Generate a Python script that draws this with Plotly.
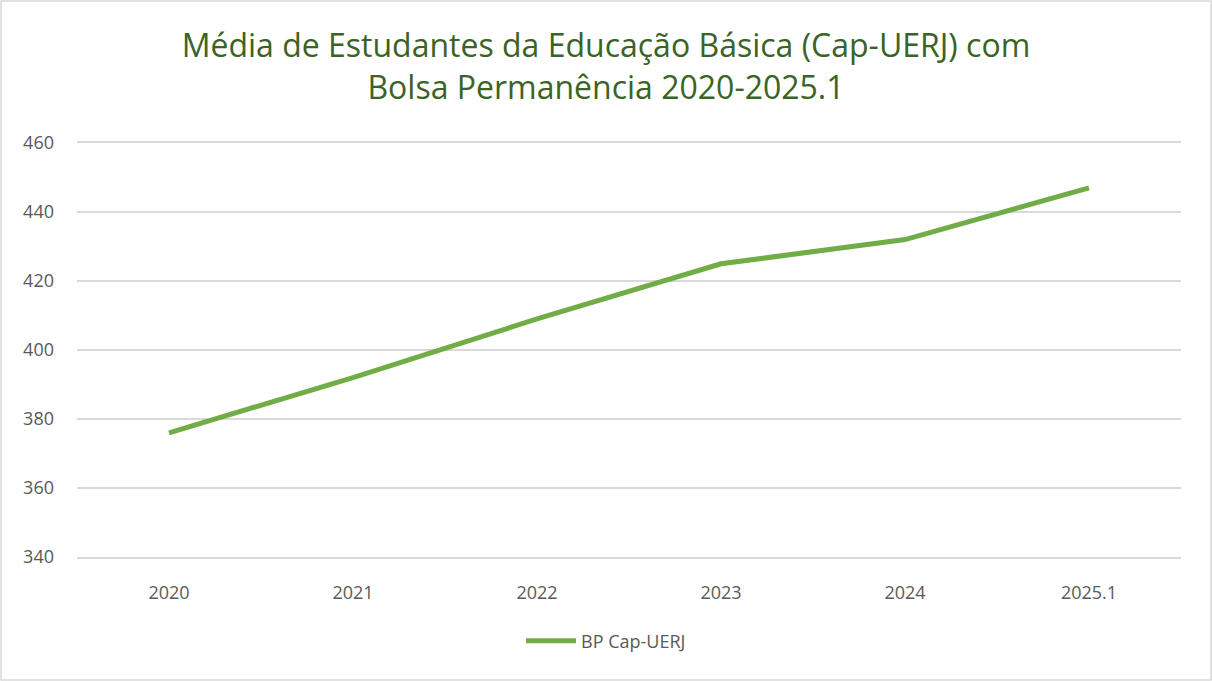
import plotly.graph_objects as go

# Chart data
years = ['2020', '2021', '2022', '2023', '2024', '2025.1']
bp_capuerj = [376, 392, 409, 425, 432, 447]
y_ticks = [340, 360, 380, 400, 420, 440, 460]

W, H = 1212, 681
L, R, T, B = 77, 31, 143, 124
pw, ph = W - L - R, H - T - B

fig = go.Figure()
fig.add_trace(go.Scatter(
    x=years,
    y=bp_capuerj,
    name='BP Cap-UERJ',
    mode='lines',
    line=dict(color='#70AD47', width=5)
))

fig.update_layout(
    title=dict(
        text='Média de Estudantes da Educação Básica (Cap-UERJ) com<br>Bolsa Permanência 2020-2025.1',
        x=0.5, xanchor='center', yref='container', y=1 - 57 / H, yanchor='middle',
        font=dict(family='Open Sans', size=32, color='#3B6325')
    ),
    width=W,
    height=H,
    paper_bgcolor='white',
    plot_bgcolor='white',
    font=dict(family='Open Sans', color='#595959', size=18),
    xaxis=dict(
        type='category', range=[-0.5, 5.5], showgrid=False,
        # top/bottom lines stand in for the 460 and 340 gridlines
        showline=True, linecolor='#D9D9D9', linewidth=1.5, mirror=True,
        ticks='', tickfont=dict(size=18, color='#595959'),
        ticklabelstandoff=19,
    ),
    yaxis=dict(
        range=[340, 460], tickvals=y_ticks, showgrid=True,
        gridcolor='#D9D9D9', gridwidth=1.5, zeroline=False, showline=False,
        tickfont=dict(size=18, color='#595959'), ticklabelstandoff=22,
    ),
    showlegend=True,
    legend=dict(
        orientation='h', x=(606 - L) / pw, xanchor='center',
        y=-(641 - (H - B)) / ph, yanchor='middle',
        font=dict(size=18, color='#595959'), itemwidth=50
    ),
    margin=dict(l=L, r=R, t=T, b=B),
    shapes=[dict(
        type='rect', xref='paper', yref='paper',
        x0=-(L - 1) / pw, x1=1 + (R - 1) / pw,
        y0=-(B - 1) / ph, y1=1 + (T - 1) / ph,
        line=dict(color='#D9D9D9', width=1.5), layer='below'
    )]
)

fig.write_html('out.html', config={'displayModeBar': False},
               post_script="document.body.style.margin='0';")
